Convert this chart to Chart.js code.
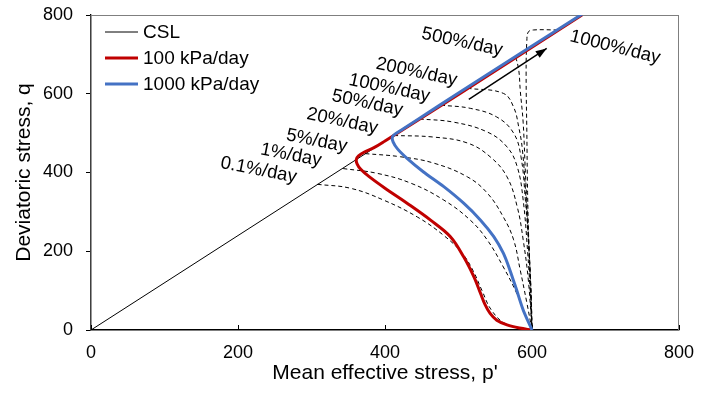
<!DOCTYPE html>
<html>
<head>
<meta charset="utf-8">
<script src="https://cdn.jsdelivr.net/npm/chart.js@4.4.1/dist/chart.umd.min.js"></script>
<style>
html, body { margin: 0; padding: 0; background: #fff; }
#chart { display: block; }
</style>
</head>
<body>
<canvas id="chart" width="721" height="394"></canvas>
<script>
// critical state line
const cslP = [0, 667];
const cslQ = [0, 800];

// 100 kPa/day stress path
const redP = [600, 583, 566, 552, 543, 536, 530, 521, 507, 489, 462, 430, 400, 378, 367, 362, 361, 364, 372, 385, 400, 500, 668];
const redQ = [0, 5, 13, 25, 42, 65, 93, 135, 186, 237, 279, 322, 360, 390, 408, 422, 433, 442, 452, 463, 480, 598, 800];

// 1000 kPa/day stress path
const blueP = [600, 588, 579, 570, 561, 548, 530, 507, 480, 452, 430, 417, 411, 410, 414, 425, 445, 500, 668];
const blueQ = [0, 51, 102, 152, 195, 237, 279, 322, 364, 402, 436, 460, 478, 490, 498, 511, 535, 602, 802];

// constant strain rate paths (dashed)
const rateLabels = ['0.1%/day', '1%/day', '5%/day', '20%/day', '50%/day', '100%/day', '200%/day', '500%/day', '1000%/day'];
const rateP = [
    [308, 353, 398, 444, 480, 505, 520, 532, 545, 565, 600],
    [343, 389, 435, 480, 516, 539, 561, 579, 592, 600],
    [373, 421, 466, 512, 539, 561, 575, 584, 593, 600],
    [412, 466, 512, 543, 566, 580, 588, 595, 600],
    [447, 493, 539, 566, 580, 588, 594, 598, 600],
    [476, 516, 552, 575, 585, 591, 596, 599, 600],
    [512, 561, 575, 582, 587, 592, 596, 599, 600],
    [578, 582, 584, 588, 591, 595, 598, 600],
    [635, 602, 595, 593, 592, 593, 594, 596, 598, 600]
];
const rateQ = [
    [370, 360, 330, 287, 240, 195, 150, 100, 50, 15, 0],
    [410, 398, 373, 330, 279, 229, 160, 94, 33, 0],
    [448, 440, 424, 389, 348, 287, 229, 152, 69, 0],
    [494, 490, 475, 440, 389, 312, 229, 127, 0],
    [536, 528, 503, 465, 414, 330, 200, 80, 0],
    [571, 563, 541, 500, 440, 330, 200, 80, 0],
    [614, 601, 566, 515, 457, 330, 200, 80, 0],
    [693, 660, 609, 526, 400, 250, 120, 0],
    [762, 762, 757, 735, 650, 500, 350, 200, 100, 0]
];

// where the rate labels sit (data units) and their tilt
const labelP = [228, 272, 307, 342, 376, 406, 443, 505, 713];
const labelQ = [406, 444, 480, 530, 576, 614, 655, 731, 718];
const labelTilt = [11, 11, 11, 12, 12, 12, 12, 12, 14];

// arrow showing increasing rate
const arrowP = [514, 620];
const arrowQ = [586, 715];

const xTicks = [0, 200, 400, 600, 800];

const FONT = "'Liberation Sans', Arial, sans-serif";
const pts = (ps, qs) => ps.map((p, i) => ({ x: p, y: qs[i] }));

const datasets = [
    { label: 'CSL', data: pts(cslP, cslQ), borderColor: '#000', borderWidth: 1, order: 2, tension: 0 },
    { label: '100 kPa/day', data: pts(redP, redQ), borderColor: '#C00000', borderWidth: 3, order: 1, tension: 0.35 },
    { label: '1000 kPa/day', data: pts(blueP, blueQ), borderColor: '#4472C4', borderWidth: 3, order: 0, tension: 0.3 }
];
rateLabels.forEach((name, i) => {
    datasets.push({
        label: name, data: pts(rateP[i], rateQ[i]),
        borderColor: '#000', borderWidth: 1, borderDash: [4, 3], order: 3, tension: 0.4
    });
});
datasets.push({ label: 'arrow', data: pts(arrowP, arrowQ), borderColor: '#000', borderWidth: 1.5, order: 2, tension: 0 });

const framePlugin = {
    id: 'frame',
    beforeDatasetsDraw(chart) {
        const { ctx, chartArea: a, scales: { x } } = chart;
        ctx.save();
        ctx.strokeStyle = '#7f7f7f';
        ctx.lineWidth = 1;
        ctx.strokeRect(a.left, a.top + 0.5, a.right - a.left - 0.5, a.bottom - a.top);
        // x ticks point inwards
        ctx.strokeStyle = '#000';
        xTicks.forEach(v => {
            const px = Math.round(x.getPixelForValue(v)) + 0.5;
            ctx.beginPath();
            ctx.moveTo(px, a.bottom);
            ctx.lineTo(px, a.bottom - 5);
            ctx.stroke();
        });
        ctx.restore();
    }
};

const notesPlugin = {
    id: 'notes',
    afterDatasetsDraw(chart) {
        const { ctx, chartArea: a, scales: { x, y } } = chart;
        ctx.save();

        // arrow head
        const x0 = x.getPixelForValue(arrowP[0]), y0 = y.getPixelForValue(arrowQ[0]);
        const x1 = x.getPixelForValue(arrowP[1]), y1 = y.getPixelForValue(arrowQ[1]);
        const ang = Math.atan2(y1 - y0, x1 - x0);
        ctx.fillStyle = '#000';
        ctx.beginPath();
        ctx.moveTo(x1, y1);
        ctx.lineTo(x1 - 11 * Math.cos(ang) + 4 * Math.sin(ang), y1 - 11 * Math.sin(ang) - 4 * Math.cos(ang));
        ctx.lineTo(x1 - 11 * Math.cos(ang) - 4 * Math.sin(ang), y1 - 11 * Math.sin(ang) + 4 * Math.cos(ang));
        ctx.closePath();
        ctx.fill();

        // rate labels
        ctx.font = '18.5px ' + FONT;
        ctx.textAlign = 'center';
        ctx.textBaseline = 'middle';
        rateLabels.forEach((t, i) => {
            ctx.save();
            ctx.translate(x.getPixelForValue(labelP[i]), y.getPixelForValue(labelQ[i]));
            ctx.rotate(labelTilt[i] * Math.PI / 180);
            ctx.fillText(t, 0, 0);
            ctx.restore();
        });

        // legend
        ctx.font = '19px ' + FONT;
        ctx.textAlign = 'left';
        chart.data.datasets.slice(0, 3).forEach((ds, i) => {
            const ly = a.top + 17 + i * 26;
            ctx.strokeStyle = ds.borderColor;
            ctx.lineWidth = ds.borderWidth;
            ctx.beginPath();
            ctx.moveTo(a.left + 14, ly);
            ctx.lineTo(a.left + 47, ly);
            ctx.stroke();
            ctx.fillText(ds.label, a.left + 52, ly + 1);
        });
        ctx.restore();
    }
};

new Chart(document.getElementById('chart'), {
    type: 'scatter',
    data: { datasets: datasets },
    options: {
        responsive: false,
        animation: false,
        devicePixelRatio: 1,
        showLine: true,
        layout: { padding: { left: 0, top: 15, right: 42, bottom: 0 } },
        elements: { point: { radius: 0, hoverRadius: 0 }, line: { fill: false } },
        plugins: { legend: { display: false }, tooltip: { enabled: false } },
        scales: {
            x: {
                type: 'linear', min: 0, max: 800,
                afterFit: s => { s.height = 64; s.paddingLeft = 0; s.paddingRight = 0; },
                afterBuildTicks: s => { s.ticks = xTicks.map(v => ({ value: v })); },
                ticks: { color: '#000', font: { family: FONT, size: 18 }, padding: 12, maxRotation: 0 },
                grid: { display: false, drawTicks: false },
                border: { display: true, color: '#000', width: 1.3 },
                title: { display: true, text: "Mean effective stress, p'", color: '#000', font: { family: FONT, size: 21 }, padding: { top: 0, bottom: 8 } }
            },
            y: {
                type: 'linear', min: 0, max: 800,
                afterFit: s => { s.width = 91; s.paddingTop = 0; s.paddingBottom = 0; },
                ticks: { stepSize: 200, color: '#000', font: { family: FONT, size: 18 }, padding: 13 },
                grid: { display: true, drawOnChartArea: false, drawTicks: true, tickLength: 5, color: '#000' },
                border: { display: true, color: '#000', width: 1.3 },
                title: { display: true, text: 'Deviatoric stress, q', color: '#000', font: { family: FONT, size: 21 }, padding: { top: 12, bottom: 0 } }
            }
        }
    },
    plugins: [framePlugin, notesPlugin]
});
</script>
</body>
</html>
